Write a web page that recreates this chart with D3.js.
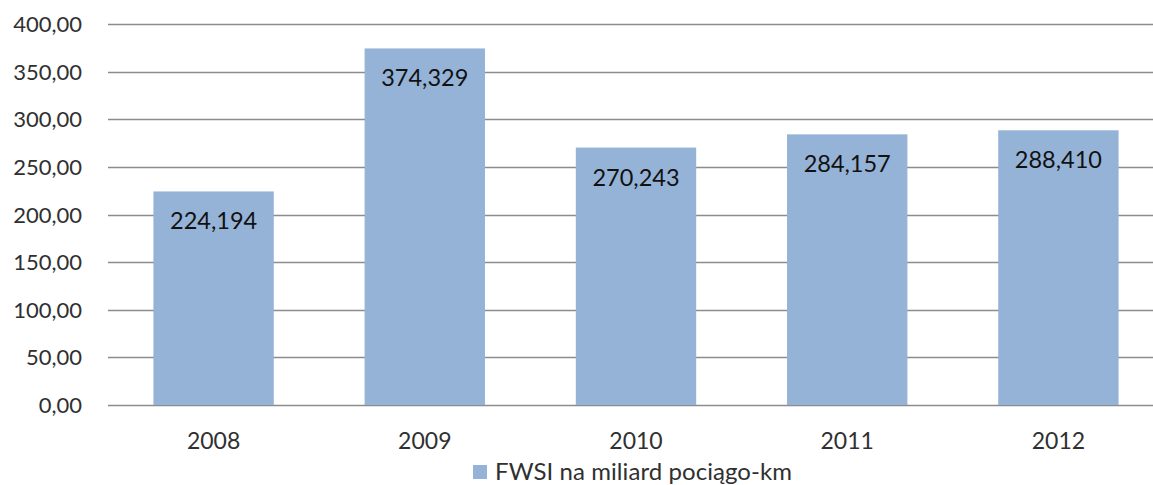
<!DOCTYPE html>
<html>
<head>
<meta charset="utf-8">
<script src="https://cdn.jsdelivr.net/npm/d3@7"></script>
<style>
  body { margin: 0; background: #fff; }
  svg { display: block; font-family: Lato, "Open Sans", sans-serif; }
</style>
</head>
<body>
<svg id="chart" width="1153" height="485"></svg>
<script>
var years = ["2008", "2009", "2010", "2011", "2012"];
var values = [224.194, 374.329, 270.243, 284.157, 288.410];
var yTicks = [0, 50, 100, 150, 200, 250, 300, 350, 400];
var seriesName = "FWSI na miliard pociągo-km";

var barColor = "#95B3D7";
var svg = d3.select("#chart");

var x = d3.scaleBand().domain(years).range([108, 1164]).paddingInner(0.43).paddingOuter(0.215);
var y = d3.scaleLinear().domain([0, 400]).range([405, 24]);

function fmt(v, d) {
    return v.toFixed(d).replace(".", ",");
}

// grid lines
svg.append("g").selectAll("line").data(yTicks).enter()
    .append("line")
    .attr("x1", 108)
    .attr("x2", 1164)
    .attr("y1", function (d) { return Math.round(y(d)) + 0.5; })
    .attr("y2", function (d) { return Math.round(y(d)) + 0.5; })
    .style("stroke", "#8c8c8c")
    .style("stroke-width", 1.3);

// y labels
svg.append("g").selectAll("text").data(yTicks).enter()
    .append("text")
    .attr("x", 82)
    .attr("y", function (d) { return y(d) + 8; })
    .attr("text-anchor", "end")
    .attr("font-size", "22px")
    .attr("fill", "#303030")
    .text(function (d) { return fmt(d, 2); });

// bars
svg.append("g").selectAll("rect").data(values).enter()
    .append("rect")
    .attr("x", function (d, i) { return x(years[i]); })
    .attr("width", x.bandwidth())
    .attr("y", function (d) { return y(d); })
    .attr("height", function (d) { return y(0) - y(d); })
    .style("fill", barColor);

// bar value labels
svg.append("g").selectAll("text").data(values).enter()
    .append("text")
    .attr("x", function (d, i) { return x(years[i]) + x.bandwidth() / 2; })
    .attr("y", function (d) { return y(d) + 38; })
    .attr("text-anchor", "middle")
    .attr("font-size", "23.5px")
    .attr("fill", "#111")
    .text(function (d) { return fmt(d, 3); });

// x labels
svg.append("g").selectAll("text").data(years).enter()
    .append("text")
    .attr("x", function (d) { return x(d) + x.bandwidth() / 2; })
    .attr("y", 449)
    .attr("text-anchor", "middle")
    .attr("font-size", "23px")
    .attr("fill", "#303030")
    .text(function (d) { return d; });

// legend
svg.append("rect")
    .attr("x", 473).attr("y", 465)
    .attr("width", 14).attr("height", 14)
    .style("fill", barColor);
svg.append("text")
    .attr("x", 495).attr("y", 480)
    .attr("font-size", "24px")
    .attr("fill", "#303030")
    .attr("textLength", 297)
    .attr("lengthAdjust", "spacing")
    .text(seriesName);
</script>
</body>
</html>
